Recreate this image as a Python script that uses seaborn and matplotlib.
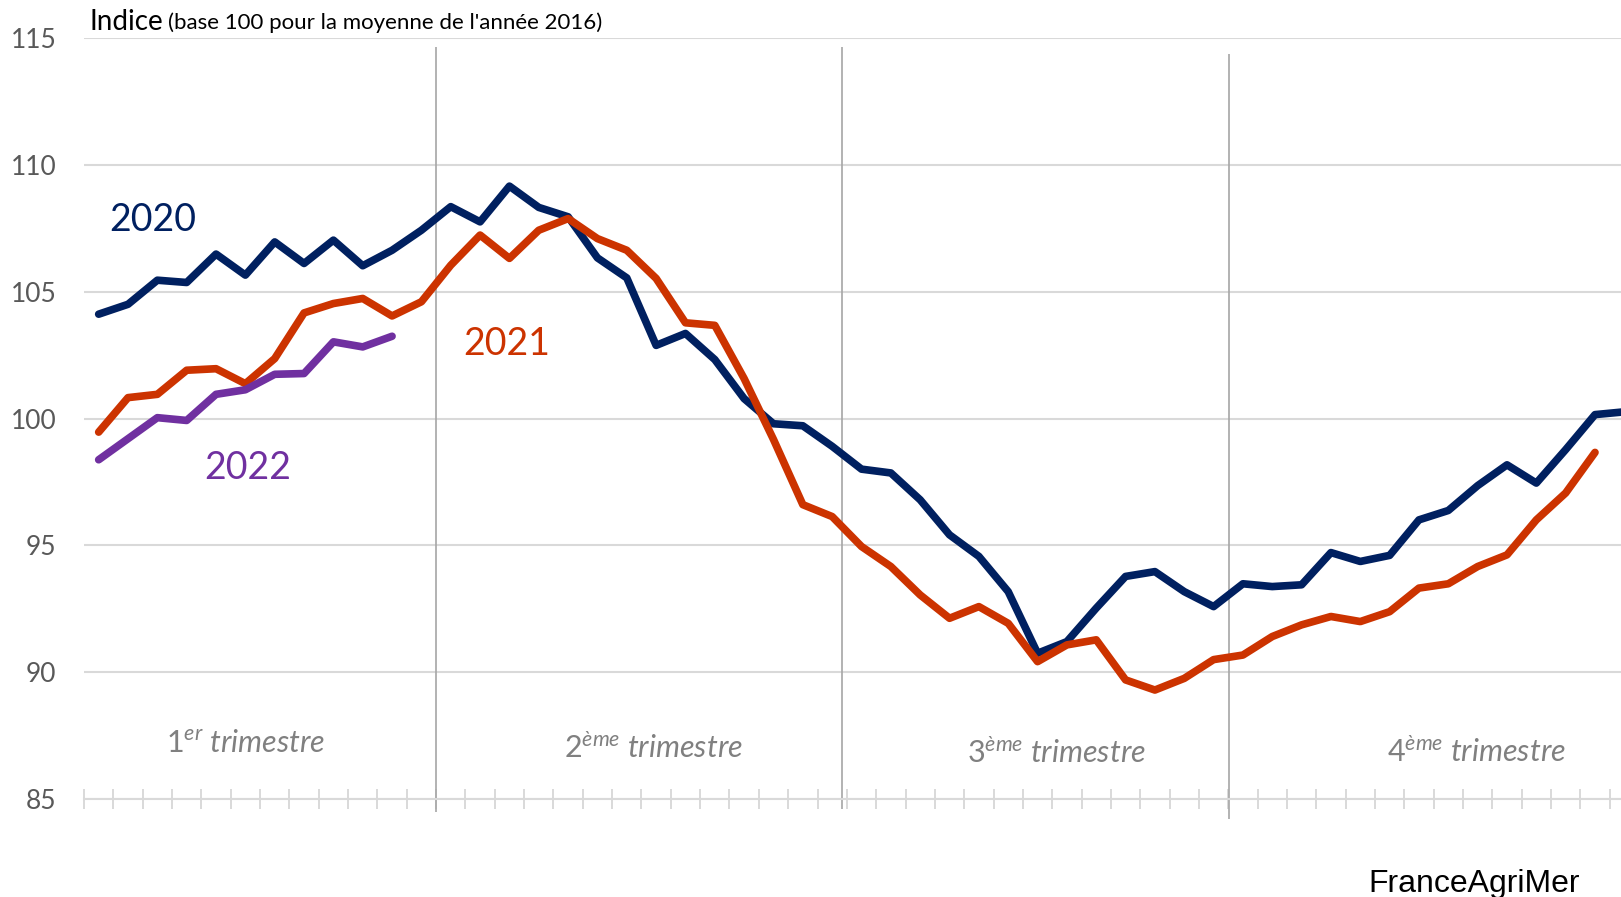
import matplotlib
matplotlib.use("Agg")
import matplotlib.pyplot as plt
import numpy as np
import pandas as pd
import seaborn as sns

# Weekly index values (base 100 = 2016 average)
values_2020 = [104.12, 104.51, 105.46, 105.37, 106.49, 105.66, 106.97, 106.12, 107.04, 106.03,
               106.64, 107.43, 108.36, 107.76, 109.17, 108.33, 107.96, 106.34, 105.55, 102.89,
               103.36, 102.33, 100.79, 99.80, 99.72, 98.91, 98.01, 97.86, 96.80, 95.42,
               94.57, 93.18, 90.75, 91.21, 92.53, 93.78, 93.97, 93.18, 92.59, 93.49,
               93.38, 93.45, 94.72, 94.37, 94.61, 96.01, 96.38, 97.36, 98.18, 97.46,
               98.78, 100.16, 100.27]
values_2021 = [99.47, 100.83, 100.96, 101.91, 101.97, 101.38, 102.37, 104.17, 104.54, 104.74,
               104.05, 104.61, 106.05, 107.24, 106.32, 107.43, 107.89, 107.10, 106.64, 105.53,
               103.78, 103.68, 101.58, 99.18, 96.61, 96.14, 94.96, 94.17, 93.05, 92.13,
               92.59, 91.93, 90.42, 91.08, 91.28, 89.70, 89.30, 89.76, 90.50, 90.68,
               91.41, 91.87, 92.20, 92.00, 92.39, 93.32, 93.49, 94.17, 94.63, 96.01,
               97.07, 98.67]
values_2022 = [98.38, 99.21, 100.04, 99.93, 100.96, 101.14, 101.75, 101.78, 103.03, 102.83, 103.25]

years = ["2020", "2021", "2022"]
colors = {"2020": "#002060", "2021": "#CC3300", "2022": "#7030A0"}
y_ticks = [85, 90, 95, 100, 105, 110, 115]
quarter_names = [r"$\mathit{1}^{\mathit{er}}$ trimestre", r"$\mathit{2}^{\mathit{ème}}$ trimestre",
                 r"$\mathit{3}^{\mathit{ème}}$ trimestre", r"$\mathit{4}^{\mathit{ème}}$ trimestre"]
quarter_bounds = [12.5, 26.33, 39.52]

frames = []
for year, vals in zip(years, [values_2020, values_2021, values_2022]):
    frames.append(pd.DataFrame({"semaine": np.arange(1, len(vals) + 1), "indice": vals, "annee": year}))
df = pd.concat(frames, ignore_index=True)

sns.set_style("white")
plt.rcParams["font.family"] = ["Lato", "DejaVu Sans"]
plt.rcParams["mathtext.fontset"] = "custom"
plt.rcParams["mathtext.it"] = "Lato:italic"
plt.rcParams["mathtext.rm"] = "Lato"
plt.rcParams["mathtext.default"] = "it"

fig = plt.figure(figsize=(16.21, 8.97), dpi=100)
ax = fig.add_axes([84 / 1621, 1 - 799.1 / 897, 1 - 84 / 1621, (799.1 - 38.25) / 897])

sns.lineplot(data=df, x="semaine", y="indice", hue="annee", palette=colors, linewidth=5.5,
             legend=False, ax=ax, solid_capstyle="round", solid_joinstyle="round")

ax.set_xlim(0.5, 0.5 + (1621 - 84) / 29.34)
ax.set_ylim(85, 115)
ax.set_yticks(y_ticks)
ax.set_yticklabels([str(t) for t in y_ticks], fontsize=19, color="#595959")
ax.set_xticks(np.arange(0.5, 53.5, 1))
ax.set_xticklabels([])
ax.set_xlabel("")
ax.set_ylabel("")
ax.tick_params(axis="y", length=0, pad=20)
ax.tick_params(axis="x", bottom=True, direction="inout", length=15, width=1.4, color="#d9d9d9")
ax.yaxis.grid(True, color="#d9d9d9", linewidth=1.5)
ax.set_axisbelow(True)
for side in ["top", "right", "left"]:
    ax.spines[side].set_visible(False)
ax.spines["bottom"].set_color("#d9d9d9")
ax.spines["bottom"].set_linewidth(1.5)

# quarter separators
ax.vlines(quarter_bounds[0], 84.51, 114.67, color="#a6a6a6", lw=1.2, clip_on=False, zorder=1)
ax.vlines(quarter_bounds[1], 84.59, 114.67, color="#a6a6a6", lw=1.2, clip_on=False, zorder=1)
ax.vlines(quarter_bounds[2], 84.22, 114.39, color="#a6a6a6", lw=1.2, clip_on=False, zorder=1)

for name, (qx, qy) in zip(quarter_names, [(5.99, 87.16), (19.9, 87.04), (33.64, 86.83), (47.95, 86.87)]):
    ax.text(qx, qy, name, ha="center", va="center", fontsize=22, style="italic", color="#808080")

# series labels
ax.text(2.85, 107.83, "2020", ha="center", va="center", fontsize=27, color=colors["2020"])
ax.text(14.9, 102.93, "2021", ha="center", va="center", fontsize=27, color=colors["2021"])
ax.text(6.09, 98.04, "2022", ha="center", va="center", fontsize=27, color=colors["2022"])

fig.text(89 / 1621, 1 - 21.7 / 897, "Indice", fontsize=20, ha="left", va="center", color="black")
fig.text(167.5 / 1621, 1 - 23 / 897, "(base 100 pour la moyenne de l'année 2016)", fontsize=16,
         ha="left", va="center", color="black")
fig.text(1580 / 1621, 1 - 892 / 897, "FranceAgriMer", fontsize=23, ha="right", va="baseline",
         family="Liberation Sans", color="black")

fig.savefig("out.png", dpi=100)
